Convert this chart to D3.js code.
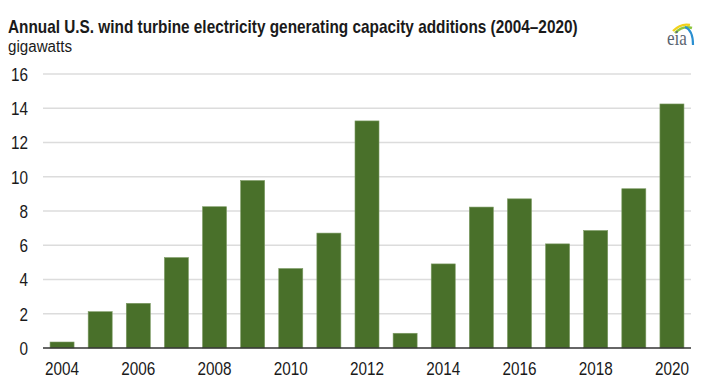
<!DOCTYPE html>
<html><head><meta charset="utf-8">
<script src="https://cdn.jsdelivr.net/npm/d3@7"></script>
<style>
html,body{margin:0;padding:0;background:#fff;}
svg{display:block;}
</style></head>
<body>
<svg id="chart" width="704" height="379"></svg>
<script>
const years = [2004,2005,2006,2007,2008,2009,2010,2011,2012,2013,2014,2015,2016,2017,2018,2019,2020];
const capacity = [0.35,2.12,2.61,5.28,8.25,9.78,4.64,6.71,13.26,0.86,4.91,8.23,8.71,6.08,6.86,9.30,14.25];
const yTicks = [0,2,4,6,8,10,12,14,16];
const xTickLabels = [2004,2006,2008,2010,2012,2014,2016,2018,2020];
const titleText = "Annual U.S. wind turbine electricity generating capacity additions (2004\u20132020)";
const unitText = "gigawatts";

(function(){
const svg = d3.select("#chart");
const font = "'Liberation Sans Narrow','Arial Narrow','Liberation Sans',Arial,sans-serif";
const pLeft = 43, pRight = 691, pTop = 74, pBottom = 348;

const x = d3.scaleBand().domain(years).range([pLeft, pRight]).paddingInner(0.37).paddingOuter(0.185);
const y = d3.scaleLinear().domain([0,16]).range([pBottom, pTop]);

function fitText(sel, tx, ty, width){
  const w = sel.node().getComputedTextLength();
  sel.attr("transform", `translate(${tx},${ty}) scale(${width / w},1)`);
}

// title
const t1 = svg.append("text").attr("font-family",font).attr("font-weight","bold")
  .attr("font-size",18).attr("fill","#1a1a1a").text(titleText);
fitText(t1, 8, 33, 570);
const t2 = svg.append("text").attr("font-family",font)
  .attr("font-size",16).attr("fill","#1a1a1a").text(unitText);
fitText(t2, 8, 52, 64);

// gridlines
svg.append("g").selectAll("line").data(yTicks.filter(d=>d>0)).join("line")
  .attr("x1",pLeft).attr("x2",pRight).attr("y1",d=>y(d)).attr("y2",d=>y(d))
  .attr("stroke","#dcdcdc").attr("stroke-width",1.5);

// y axis labels
const yAxis = d3.axisLeft(y).tickValues(yTicks).tickSize(0).tickPadding(0).tickFormat(d3.format("d"));
const gy = svg.append("g").attr("transform",`translate(28,0)`).call(yAxis);
gy.select(".domain").remove();
gy.selectAll("text").attr("font-family",font).attr("font-size",18).attr("fill","#1a1a1a")
  .attr("dy","0.36em").attr("transform","scale(0.85,1)");

// bars
svg.append("g").selectAll("rect").data(years).join("rect")
  .attr("x",(d)=>x(d)).attr("width",x.bandwidth())
  .attr("y",(d,i)=>y(capacity[i])).attr("height",(d,i)=>y(0)-y(capacity[i]))
  .attr("fill","#49702a").attr("stroke","#7d9b64").attr("stroke-width",0.6);

// baseline axis
const xAxis = d3.axisBottom(x).tickValues(xTickLabels).tickSize(0).tickPadding(14);
const gx = svg.append("g").attr("transform",`translate(0,${pBottom})`).call(xAxis);
gx.select(".domain").attr("stroke","#333").attr("stroke-width",1.5).attr("d",`M${pLeft},0H${pRight}`);
gx.selectAll("text").attr("font-family",font).attr("font-size",18).attr("fill","#1a1a1a")
  .attr("dy","0").attr("y",27).attr("transform","scale(0.85,1)");

// eia logo
const logo = svg.append("g").attr("transform","translate(666,20)");
logo.append("path").attr("d","M7,11 Q15,3 24,5").attr("fill","none").attr("stroke","#f2d21b").attr("stroke-width",2.4);
logo.append("path").attr("d","M9,13 Q17,5 26,8").attr("fill","none").attr("stroke","#8cc63f").attr("stroke-width",2.4);
logo.append("path").attr("d","M19,7 Q27,10 27,25").attr("fill","none").attr("stroke","#2b8fd1").attr("stroke-width",2.2);
const t3 = logo.append("text").attr("font-family","'Liberation Serif','DejaVu Serif',serif")
  .attr("font-size",21).attr("fill","#5a6470").text("eia");
fitText(t3, 1, 25, 20);
})();
</script>
</body></html>
